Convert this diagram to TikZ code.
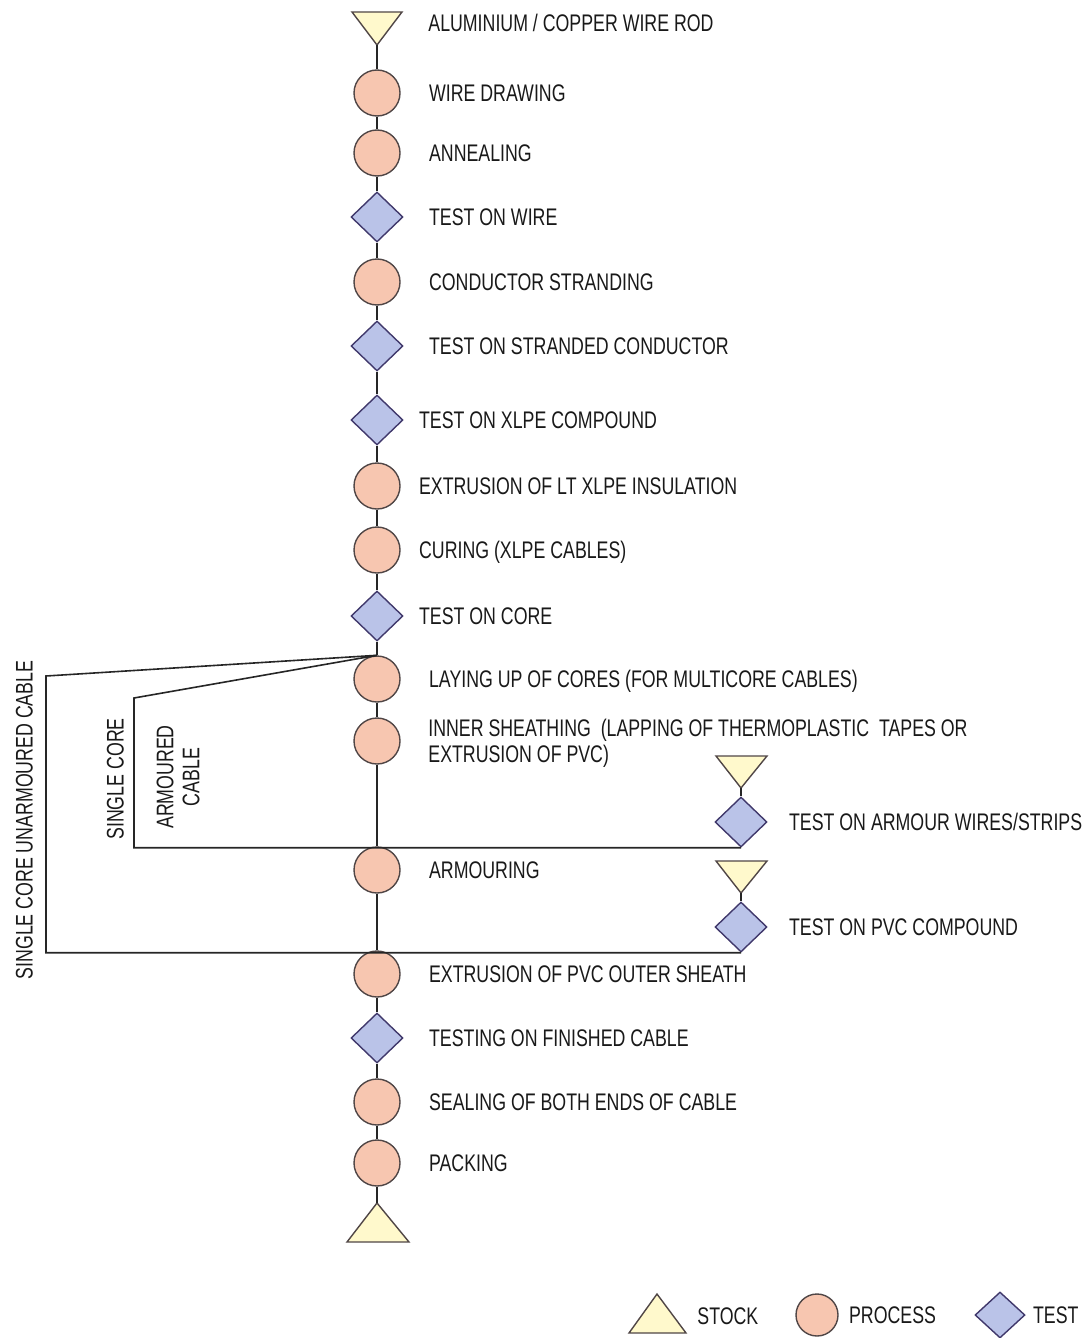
\documentclass[tikz,border=0pt]{standalone}
\usepackage{fontspec}
\setmainfont[FakeStretch=0.74]{Liberation Sans}
\usetikzlibrary{shapes.geometric,positioning}
\definecolor{procfill}{RGB}{247,198,176}
\definecolor{testfill}{RGB}{186,195,232}
\definecolor{stockfill}{RGB}{255,249,204}
\definecolor{edgegrey}{RGB}{80,70,70}
\definecolor{txtgrey}{RGB}{25,25,25}

\begin{document}
\begin{tikzpicture}[x=0.5pt,y=-0.5pt,node distance=14pt]

\tikzset{procnode/.style={shape=circle,fill=procfill,draw=edgegrey,line width=0.7pt,inner sep=0pt,minimum size=23pt},
testnode/.style={shape=diamond,fill=testfill,draw=edgegrey!80!blue,line width=0.7pt,inner sep=0pt,minimum width=26pt,minimum height=25pt},
stocktri/.style={fill=stockfill,draw=edgegrey,line width=0.7pt,line join=miter},
flow/.style={draw=black!85,line width=0.8pt},
lblfont/.style={font=\fontsize{12}{13}\selectfont,text=txtgrey,inner sep=0pt},
lbl/.style={lblfont,text height=8.6pt,text depth=0pt}}

\useasboundingbox (0,0) rectangle (1088,1338);

% Stock at top
\coordinate (rod) at (377,45);
\draw[stocktri] (352,12) -- (402,12) -- (rod) -- cycle;
\node[lbl,anchor=west] (trod) at (428,23) {ALUMINIUM / COPPER WIRE ROD};

% Process and test nodes
\node[procnode] (wd) at (377,93) {};
\node[procnode] (ann) at (377,153) {};
\node[testnode] (tw) at (377,217) {};
\node[procnode] (cs) at (377,282) {};
\node[testnode] (tsc) at (377,346) {};
\node[testnode] (txc) at (377,420) {};
\node[procnode] (ext) at (377,486) {};
\node[procnode] (cur) at (377,550) {};
\node[testnode] (tc) at (377,616) {};
\node[procnode] (lay) at (377,679) {};
\node[procnode] (ins) at (377,741) {};
\node[procnode] (arm) at (377,870) {};
\node[procnode] (pvc) at (377,974) {};
\node[testnode] (tfc) at (377,1038) {};
\node[procnode] (seal) at (377,1102) {};
\node[procnode] (pack) at (377,1163) {};

% Stock at bottom
\coordinate (stock) at (377,1203);
\draw[stocktri] (347,1242) -- (409,1242) -- (stock) -- cycle;

% Labels
\node[lbl,right=of wd] (twd) {WIRE DRAWING};
\node[lbl,right=of ann] (tann) {ANNEALING};
\node[lbl,right=12.5pt of tw] (ttw) {TEST ON WIRE};
\node[lbl,right=of cs] (tcs) {CONDUCTOR STRANDING};
\node[lbl,right=12.5pt of tsc] (ttsc) {TEST ON STRANDED CONDUCTOR};
\node[lbl,right=7.5pt of txc] (ttxc) {TEST ON XLPE COMPOUND};
\node[lbl,right=9pt of ext] (text) {EXTRUSION OF LT XLPE INSULATION};
\node[lbl,right=9pt of cur] (tcur) {CURING (XLPE CABLES)};
\node[lbl,right=7.5pt of tc] (ttc) {TEST ON CORE};
\node[lbl,right=of lay] (tlay) {LAYING UP OF CORES (FOR MULTICORE CABLES)};
\node[lblfont,anchor=north west,align=left] (tins) at (428,719) {INNER SHEATHING \ (LAPPING OF THERMOPLASTIC \ TAPES OR\\EXTRUSION OF PVC)};
\node[lbl,right=of arm] (tarm) {ARMOURING};
\node[lbl,right=of pvc] (tpvc) {EXTRUSION OF PVC OUTER SHEATH};
\node[lbl,right=12.5pt of tfc] (ttfc) {TESTING ON FINISHED CABLE};
\node[lbl,right=of seal] (tseal) {SEALING OF BOTH ENDS OF CABLE};
\node[lbl,right=of pack] (tpack) {PACKING};

% Side inputs
\coordinate (atri) at (741,788);
\draw[stocktri] (716,756) -- (767,756) -- (atri) -- cycle;
\node[testnode] (atest) at (741,822) {};
\node[lbl,right=10.5pt of atest] (tatest) {TEST ON ARMOUR WIRES/STRIPS};
\coordinate (ptri) at (741,893);
\draw[stocktri] (716,861) -- (767,861) -- (ptri) -- cycle;
\node[testnode] (ptest) at (741,927) {};
\node[lbl,right=10.5pt of ptest] (tptest) {TEST ON PVC COMPOUND};

% Edges
\foreach \a/\b in {rod/wd,wd/ann,ann/tw,tw/cs,cs/tsc,tsc/txc,txc/ext,ext/cur,cur/tc,tc/lay,lay/ins,ins/arm,arm/pvc,pvc/tfc,tfc/seal,seal/pack,pack/stock,atri/atest,ptri/ptest} \draw[flow] (\a) -- (\b);

% Branches
\coordinate (ucorner) at (46,676);
\coordinate (acorner) at (134,698);
\draw[flow] (lay.north) -- (ucorner) |- (ptest.south);
\draw[flow] (lay.north) -- (acorner) |- (atest.south);
\node[lbl,rotate=90] (tuc) at (24,820) {SINGLE CORE UNARMOURED CABLE};
\node[lbl,rotate=90] (tsingle) at (115,779) {SINGLE CORE};
\node[lblfont,rotate=90,align=center] (tarmc) at (178,777) {ARMOURED\\CABLE};

% Legend
\coordinate (lstock) at (657,1294);
\draw[stocktri] (629,1333) -- (686,1333) -- (lstock) -- cycle;
\node[lbl,anchor=west] (tstock) at (697,1316) {STOCK};
\node[procnode,minimum size=21pt] (lproc) at (817,1315) {};
\node[lbl,right=5pt of lproc] (tproc) {PROCESS};
\node[testnode,minimum width=25pt,minimum height=23pt] (ltest) at (1000,1315) {};
\node[lbl,right=3.5pt of ltest] (tltest) {TEST};

\end{tikzpicture}
\end{document}
